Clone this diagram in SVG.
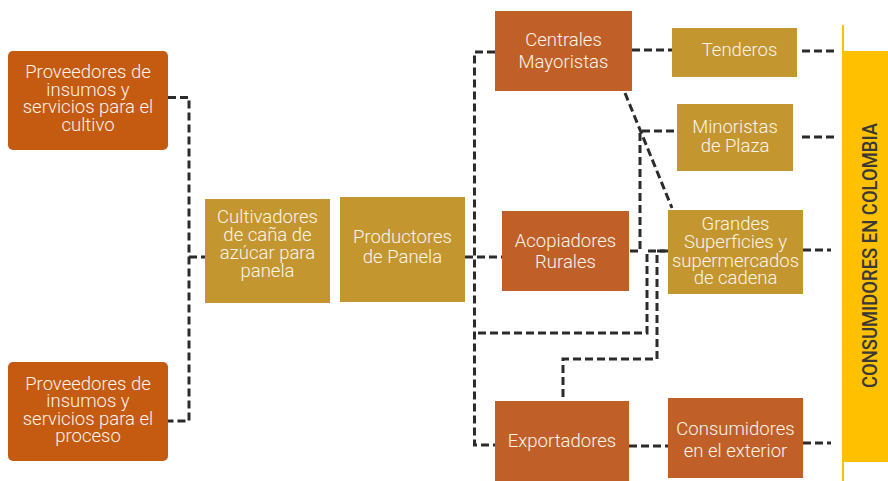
<svg xmlns="http://www.w3.org/2000/svg" width="888" height="481" viewBox="0 0 888 481">
<style>
.or{fill:#C55A11}
.or2{fill:#C06028}
.gd{fill:#C4962F}
.t{font-family:Roboto,"Liberation Sans",sans-serif;font-weight:300;font-size:18.5px;fill:#FBF4EC;text-anchor:middle}
.c{fill:none;stroke:#2B2B2B;stroke-width:3;stroke-dasharray:8 4}
</style>
<rect width="888" height="481" fill="#FFFFFF"/>
<g id="connectors">
<path class="c" d="M168,97.5 H189 V421 H168"/>
<path class="c" d="M189,257 H205"/>
<path class="c" d="M465,257 H502"/>
<path class="c" d="M495,52 H474.5 V445 H495"/>
<path class="c" d="M632,50 H672"/>
<path class="c" d="M625,93 L672,208"/>
<path class="c" d="M630,251 H640 V131 H677"/>
<path class="c" d="M668,251 H647 V333 H474.5"/>
<path class="c" d="M665,251 H657 V359 H563 V401"/>
<path class="c" d="M629,446 H668"/>
<path class="c" d="M802,51 H837"/>
<path class="c" d="M802,137 H837"/>
<path class="c" d="M803,250 H831"/>
<path class="c" d="M803,443 H831"/>
</g>
<g id="consumidores-colombia">
<line x1="843" y1="25" x2="843" y2="481" stroke="#FFC000" stroke-width="2"/>
<rect x="842" y="51" width="46" height="411" fill="#FFC000"/>
<text x="869" y="255.5" transform="rotate(-90 869 255.5)" dy="7.5" font-family="Roboto,'Liberation Sans',sans-serif" font-weight="500" font-size="20" fill="#383838" text-anchor="middle" textLength="265" lengthAdjust="spacingAndGlyphs">CONSUMIDORES EN COLOMBIA</text>
</g>
<g id="prov-cultivo">
<rect class="or" x="8" y="51" width="160" height="99" rx="5"/>
<text class="t"><tspan x="88" y="78">Proveedores de</tspan><tspan x="88" y="95.5">insumos y</tspan><tspan x="88" y="113">servicios para el</tspan><tspan x="88" y="130.5">cultivo</tspan></text>
</g>
<g id="prov-proceso">
<rect class="or" x="8" y="362" width="160" height="99" rx="5"/>
<text class="t"><tspan x="88" y="389.5">Proveedores de</tspan><tspan x="88" y="407">insumos y</tspan><tspan x="88" y="424.5">servicios para el</tspan><tspan x="88" y="442">proceso</tspan></text>
</g>
<g id="cultivadores">
<rect class="gd" x="205" y="199" width="125" height="104"/>
<text class="t"><tspan x="267.5" y="223">Cultivadores</tspan><tspan x="267.5" y="241">de caña de</tspan><tspan x="267.5" y="259">azúcar para</tspan><tspan x="267.5" y="276.5">panela</tspan></text>
</g>
<g id="productores">
<rect class="gd" x="340" y="197" width="125" height="105"/>
<text class="t"><tspan x="402.5" y="243">Productores</tspan><tspan x="402.5" y="263">de Panela</tspan></text>
</g>
<g id="centrales">
<rect class="or2" x="495" y="11" width="137" height="80"/>
<text class="t"><tspan x="563.5" y="45.5">Centrales</tspan><tspan x="563.5" y="67.5">Mayoristas</tspan></text>
</g>
<g id="tenderos">
<rect class="gd" x="672" y="28" width="125" height="49"/>
<text class="t" x="739.5" y="55.5">Tenderos</text>
</g>
<g id="minoristas">
<rect class="gd" x="677" y="104" width="116" height="67"/>
<text class="t"><tspan x="735" y="133">Minoristas</tspan><tspan x="735" y="151.5">de Plaza</tspan></text>
</g>
<g id="acopiadores">
<rect class="or2" x="502" y="211" width="127" height="80"/>
<text class="t"><tspan x="565.5" y="246.5">Acopiadores</tspan><tspan x="565.5" y="268">Rurales</tspan></text>
</g>
<g id="grandes">
<rect class="gd" x="668" y="210" width="135" height="84"/>
<text class="t"><tspan x="735.5" y="229.5">Grandes</tspan><tspan x="735.5" y="248">Superficies y</tspan><tspan x="735.5" y="266.5">supermercados</tspan><tspan x="735.5" y="284">de cadena</tspan></text>
</g>
<g id="exportadores">
<rect class="or2" x="495" y="401" width="134" height="80"/>
<text class="t" x="562" y="446.5">Exportadores</text>
</g>
<g id="consumidores-exterior">
<rect class="or2" x="668" y="398" width="135" height="80"/>
<text class="t"><tspan x="735.5" y="434.5">Consumidores</tspan><tspan x="735.5" y="457">en el exterior</tspan></text>
</g>
</svg>
